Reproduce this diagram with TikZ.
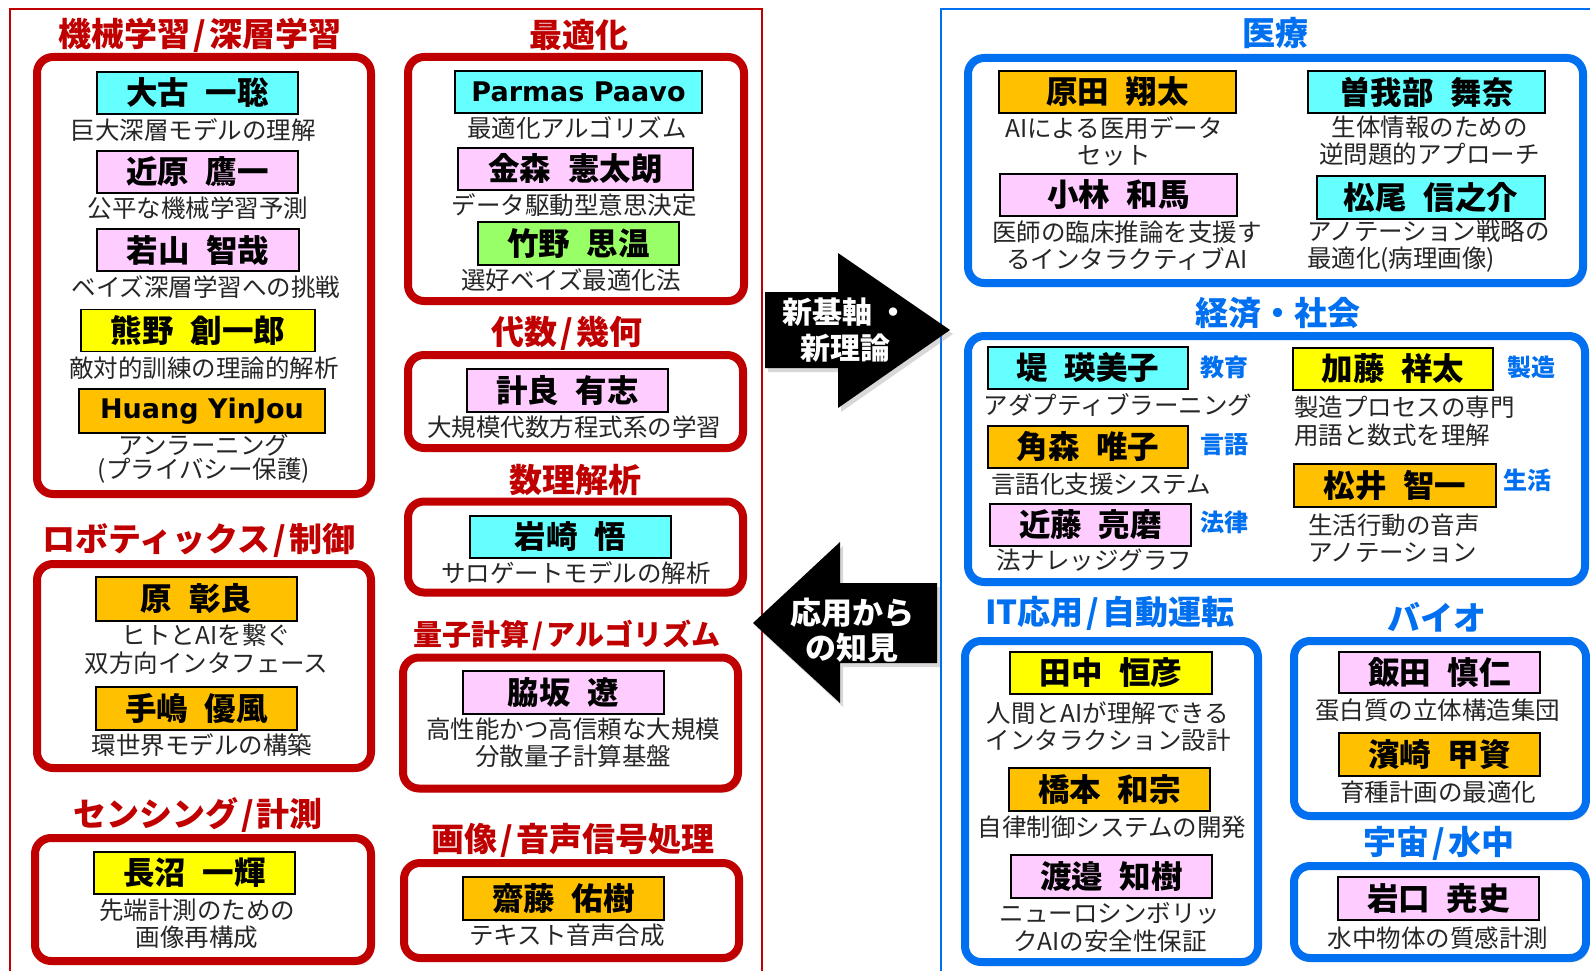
\documentclass[tikz,border=0pt]{standalone}
\usepackage{fontspec}
\newfontfamily\jp{Noto Sans CJK JP}
\newfontfamily\dv{DejaVu Sans}
\usetikzlibrary{shadows}
\definecolor{myred}{RGB}{192,0,0}
\definecolor{myblue}{RGB}{0,112,240}
\definecolor{ccyan}{RGB}{102,255,255}
\definecolor{cpink}{RGB}{255,204,255}
\definecolor{cyel}{RGB}{255,255,0}
\definecolor{corg}{RGB}{255,192,0}
\definecolor{cgrn}{RGB}{153,255,102}
\newcommand{\nsp}{\hspace{17pt}}
\newcommand{\slh}{\kern3pt/\kern3pt}
\begin{document}
\begin{tikzpicture}[x=1pt,y=-1pt,
 grp/.style={line width=8pt, rounded corners=16pt, fill=white, inner sep=0pt,
   drop shadow={shadow xshift=3pt, shadow yshift=-4pt, opacity=0.25}},
 rgrp/.style={grp, draw=myred},
 bgrp/.style={grp, draw=myblue},
 nm/.style={draw=black, line width=1.8pt, minimum height=42pt, inner sep=0pt,
   font=\jp\bfseries\fontsize{31.5}{34}\selectfont},
 nmlat/.style={nm, font=\dv\bfseries\fontsize{27}{30}\selectfont},
 ds/.style={font=\jp\fontsize{24.5}{27}\selectfont, text=black!85, align=center, inner sep=0pt},
 dsl/.style={ds, align=left, anchor=west},
 ttl/.style={font=\jp\bfseries\fontsize{33}{36}\selectfont, inner sep=0pt},
 rt/.style={ttl, text=myred},
 bt/.style={ttl, text=myblue},
 lb/.style={font=\jp\bfseries\fontsize{24}{26}\selectfont, text=myblue, inner sep=0pt},
 arrtxt/.style={font=\jp\bfseries\fontsize{30}{36}\selectfont, text=white, align=center, inner sep=0pt},
 arrshape/.style={fill=black, drop shadow={shadow xshift=3pt, shadow yshift=-4pt, opacity=0.3}},
]
\useasboundingbox (0,0) rectangle (1590,971);
\fill[white] (0,0) rectangle (1590,971);
\clip (0,0) rectangle (1590,971);

% outer frames
\draw[myred, line width=1.6pt] (10,990) -- (10,9) -- (762,9) -- (762,990);
\draw[myblue, line width=1.6pt] (941,990) -- (941,9) -- (1610,9);

% ---------------- left column ----------------
\node[rgrp, minimum width=334pt, minimum height=437pt] (g1) at (204,275.5) {};
\node[rt] (t1) at (200,35) {機械学習\slh 深層学習};
\node[nm, fill=ccyan, minimum width=201pt] (n11) at (197.5,93) {大古\nsp 一聡};
\node[ds] (d11) at (193,130) {巨大深層モデルの理解};
\node[nm, fill=cpink, minimum width=201pt] (n12) at (197.5,172) {近原\nsp 鷹一};
\node[ds] (d12) at (198,208) {公平な機械学習予測};
\node[nm, fill=cpink, minimum width=202pt] (n13) at (198,250) {若山\nsp 智哉};
\node[ds] (d13) at (206,287) {ベイズ深層学習への挑戦};
\node[nm, fill=cyel, minimum width=234pt] (n14) at (198,330.5) {熊野\nsp 創一郎};
\node[ds] (d14) at (204,368) {敵対的訓練の理論的解析};
\node[nmlat, fill=corg, minimum width=246pt, minimum height=44pt] (n15) at (202,411) {Huang YinJou};
\node[ds, font=\jp\fontsize{24.5}{22}\selectfont] (d15) at (204,458.5) {アンラーニング\\(プライバシー保護)};

\node[rgrp, minimum width=336pt, minimum height=244pt] (g2) at (576,179) {};
\node[rt] (t2) at (579,35) {最適化};
\node[nmlat, fill=ccyan, minimum width=247pt] (n21) at (578.5,92) {Parmas Paavo};
\node[ds] (d21) at (577,128) {最適化アルゴリズム};
\node[nm, fill=cpink, minimum width=235pt] (n22) at (575.5,169) {金森\nsp 憲太朗};
\node[ds] (d22) at (574,205) {データ駆動型意思決定};
\node[nm, fill=cgrn, minimum width=201pt, minimum height=43pt] (n23) at (578.5,243.5) {竹野\nsp 思温};
\node[ds] (d23) at (571,280) {選好ベイズ最適化法};

\node[rgrp, minimum width=335pt, minimum height=93pt] (g3) at (575.5,401.5) {};
\node[rt] (t3) at (567,333) {代数\slh 幾何};
\node[nm, fill=cpink, minimum width=201pt, minimum height=43pt] (n31) at (567.5,390.5) {計良\nsp 有志};
\node[ds] (d31) at (574,427) {大規模代数方程式系の学習};

\node[rgrp, minimum width=335pt, minimum height=91pt] (g4) at (575.5,547) {};
\node[rt] (t4) at (575,480) {数理解析};
\node[nm, fill=ccyan, minimum width=201pt] (n41) at (570.5,537) {岩崎\nsp 悟};
\node[ds] (d41) at (576,573) {サロゲートモデルの解析};

\node[rgrp, minimum width=335pt, minimum height=131pt] (g5) at (570.5,723) {};
\node[rt, font=\jp\bfseries\fontsize{29}{32}\selectfont] (t5) at (567,635) {量子計算\slh アルゴリズム};
\node[nm, fill=cpink, minimum width=201pt, minimum height=43pt] (n51) at (563.5,692.5) {脇坂\nsp 遼};
\node[ds] (d51) at (573,743) {高性能かつ高信頼な大規模\\分散量子計算基盤};

\node[rgrp, minimum width=335pt, minimum height=95pt] (g6) at (571.5,910.5) {};
\node[rt] (t6) at (573,840) {画像\slh 音声信号処理};
\node[nm, fill=corg, minimum width=201pt, minimum height=43pt] (n61) at (563.5,898.5) {齋藤\nsp 佑樹};
\node[ds] (d61) at (567,935) {テキスト音声合成};

\node[rgrp, minimum width=334pt, minimum height=204pt] (g7) at (204,666) {};
\node[rt] (t7) at (199,540) {ロボティックス\slh 制御};
\node[nm, fill=corg, minimum width=201pt, minimum height=44pt] (n71) at (196.5,599) {原\nsp 彰良};
\node[ds, font=\jp\fontsize{24.5}{28}\selectfont] (d71) at (206.5,649) {ヒトとAIを繋ぐ\\双方向インタフェース};
\node[nm, fill=corg, minimum width=201pt, minimum height=43pt] (n72) at (196.5,708.5) {手嶋\nsp 優風};
\node[ds] (d72) at (202,745) {環世界モデルの構築};

\node[rgrp, minimum width=336pt, minimum height=123pt] (g8) at (203,899.5) {};
\node[rt] (t8) at (198,815) {センシング\slh 計測};
\node[nm, fill=cyel, minimum width=201pt] (n81) at (194.5,873) {長沼\nsp 一輝};
\node[ds] (d81) at (197,923.5) {先端計測のための\\画像再構成};

% ---------------- arrows ----------------
\fill[arrshape] (765,292) -- (838,292) -- (838,253) -- (950,330) -- (838,408) -- (838,368) -- (765,368) -- cycle;
\node[arrtxt] (a1) at (845,330) {新基軸\hspace{6pt}・\\新理論};
\fill[arrshape] (753,623) -- (840,542) -- (840,583) -- (937,583) -- (937,663) -- (840,663) -- (840,703) -- cycle;
\node[arrtxt, font=\jp\bfseries\fontsize{31}{35}\selectfont] (a2) at (852,630) {応用から\\の知見};

% ---------------- right column ----------------
\node[bgrp, minimum width=615pt, minimum height=225pt] (h1) at (1275.5,170.5) {};
\node[bt] (u1) at (1275,33) {医療};
\node[nm, fill=corg, minimum width=237pt] (m11) at (1117.5,92) {原田\nsp 翔太};
\node[ds] (e11) at (1114,141.5) {AIによる医用データ\\セット};
\node[nm, fill=cpink, minimum width=237pt] (m12) at (1118.5,195) {小林\nsp 和馬};
\node[ds] (e12) at (1127,245.5) {医師の臨床推論を支援す\\るインタラクティブAI};
\node[nm, fill=ccyan, minimum width=237pt] (m13) at (1426.5,92) {曽我部\nsp 舞奈};
\node[ds] (e13) at (1429.5,140.5) {生体情報のための\\逆問題的アプローチ};
\node[nm, fill=ccyan, minimum width=228pt, minimum height=43pt] (m14) at (1431,197.5) {松尾\nsp 信之介};
\node[dsl] (e14) at (1307,246) {アノテーション戦略の\\最適化(病理画像)};

\node[bgrp, minimum width=617pt, minimum height=246pt] (h2) at (1276.5,459) {};
\node[bt] (u2) at (1277.5,313) {経済・社会};
\node[nm, fill=ccyan, minimum width=200pt] (m21) at (1088,368) {堤\nsp 瑛美子};
\node[lb] (l21) at (1224.5,367) {教育};
\node[ds] (e21) at (1118,405) {アダプティブラーニング};
\node[nm, fill=corg, minimum width=200pt] (m22) at (1088,447) {角森\nsp 唯子};
\node[lb] (l22) at (1224.5,445) {言語};
\node[ds] (e22) at (1101,484) {言語化支援システム};
\node[nm, fill=cpink, minimum width=201pt] (m23) at (1090.5,525) {近藤\nsp 亮磨};
\node[lb] (l23) at (1224.5,522) {法律};
\node[ds] (e23) at (1094,560) {法ナレッジグラフ};
\node[nm, fill=cyel, minimum width=200pt] (m24) at (1393,369) {加藤\nsp 祥太};
\node[lb] (l24) at (1531,367) {製造};
\node[dsl, font=\jp\fontsize{24.5}{28}\selectfont] (e24) at (1294,421) {製造プロセスの専門\\用語と数式を理解};
\node[nm, fill=corg, minimum width=202pt, minimum height=43pt] (m25) at (1395,485.5) {松井\nsp 智一};
\node[lb] (l25) at (1527,480) {生活};
\node[dsl] (e25) at (1308,538.5) {生活行動の音声\\アノテーション};

\node[bgrp, minimum width=293pt, minimum height=321pt] (h3) at (1111.5,801.5) {};
\node[bt] (u3) at (1110,613) {IT応用\slh 自動運転};
\node[nm, fill=cyel, minimum width=202pt] (m31) at (1111,673) {田中\nsp 恒彦};
\node[ds] (e31) at (1108,726.5) {人間とAIが理解できる\\インタラクション設計};
\node[nm, fill=corg, minimum width=201pt, minimum height=43pt] (m32) at (1109.5,789.5) {橋本\nsp 和宗};
\node[ds] (e32) at (1112,827) {自律制御システムの開発};
\node[nm, fill=cpink, minimum width=201pt, minimum height=43pt] (m33) at (1111.5,876.5) {渡邉\nsp 知樹};
\node[ds, font=\jp\fontsize{24.5}{28}\selectfont] (e33) at (1110,927.5) {ニューロシンボリッ\\クAIの安全性保証};

\node[bgrp, minimum width=292pt, minimum height=175pt] (h4) at (1440,728.5) {};
\node[bt] (u4) at (1437,617) {バイオ};
\node[nm, fill=cpink, minimum width=201pt, minimum height=41pt] (m41) at (1439.5,672.5) {飯田\nsp 慎仁};
\node[ds] (e41) at (1437.5,710) {蛋白質の立体構造集団};
\node[nm, fill=corg, minimum width=201pt, minimum height=43pt] (m42) at (1439.5,754.5) {濱崎\nsp 甲資};
\node[ds] (e42) at (1438,792) {育種計画の最適化};

\node[bgrp, minimum width=292pt, minimum height=92pt] (h5) at (1440,912) {};
\node[bt] (u5) at (1439,843) {宇宙\slh 水中};
\node[nm, fill=cpink, minimum width=201pt, minimum height=43pt] (m51) at (1438.5,898.5) {岩口\nsp 尭史};
\node[ds] (e51) at (1438,938) {水中物体の質感計測};
\end{tikzpicture}
\end{document}
